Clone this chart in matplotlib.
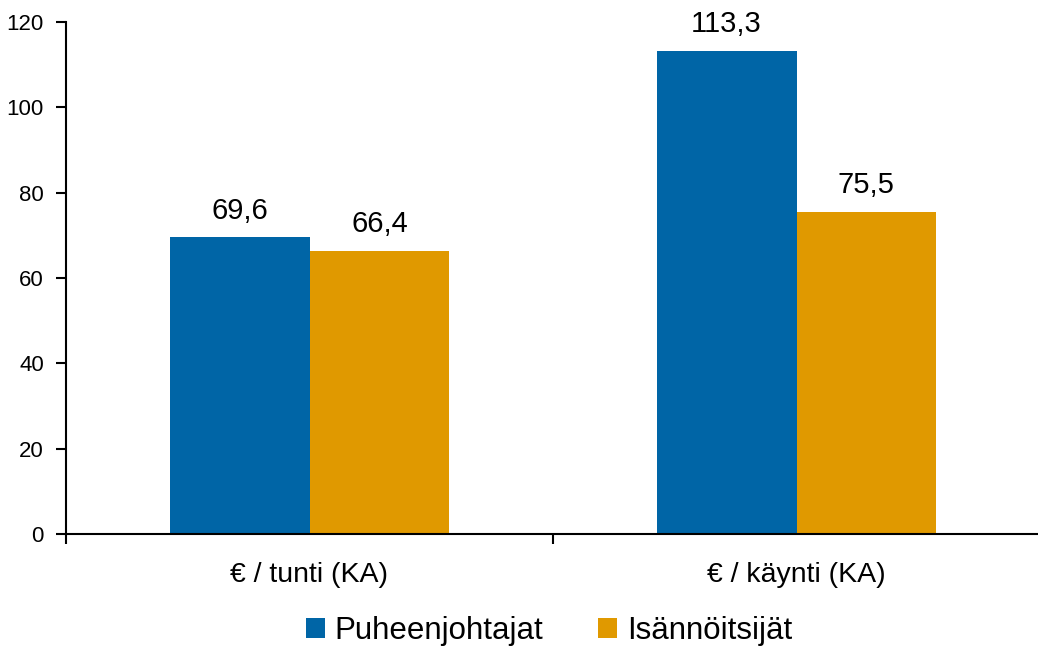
import numpy as np
import matplotlib.pyplot as plt

plt.rcParams['font.family'] = ['Liberation Sans', 'DejaVu Sans']

categories = ['€ / tunti (KA)', '€ / käynti (KA)']
series_names = ['Puheenjohtajat', 'Isännöitsijät']
puheenjohtajat = [69.6, 113.3]
isannoitsijat = [66.4, 75.5]
colors = ['#0065A6', '#E09900']

fig = plt.figure(figsize=(10.38, 6.47), dpi=100)
ax = fig.add_axes([66 / 1038, 113 / 647, 974 / 1038, 512 / 647])

x = np.arange(len(categories))
w = 0.287
b1 = ax.bar(x - w / 2, puheenjohtajat, w, color=colors[0], label=series_names[0])
b2 = ax.bar(x + w / 2, isannoitsijat, w, color=colors[1], label=series_names[1])

for bars in (b1, b2):
    labels = [f'{v:.1f}'.replace('.', ',') for v in bars.datavalues]
    ax.bar_label(bars, labels=labels, padding=9, fontsize=21)

ax.set_xlim(-0.5, 1.5)
ax.set_ylim(0, 120)
ax.set_yticks(range(0, 121, 20))
ax.tick_params(axis='y', labelsize=16, length=7, width=1.5, direction='out', pad=9)

ax.set_xticks([-0.5, 0.5, 1.5])
ax.set_xticklabels([])
ax.set_xticks(x, minor=True)
ax.set_xticklabels(categories, minor=True, fontsize=20.5)
ax.tick_params(axis='x', which='major', length=7, width=1.5, direction='out')
ax.tick_params(axis='x', which='minor', length=0, pad=20)

for s in ['top', 'right']:
    ax.spines[s].set_visible(False)
for s in ['left', 'bottom']:
    ax.spines[s].set_linewidth(1.5)

fig.legend(handles=[b1, b2], loc='center', bbox_to_anchor=(549 / 1038, 1 - 631 / 647),
           ncol=2, frameon=False, fontsize=22.5, handlelength=0.62, handleheight=0.62,
           handletextpad=0.3, columnspacing=1.75)

fig.savefig('out.png', dpi=100)
